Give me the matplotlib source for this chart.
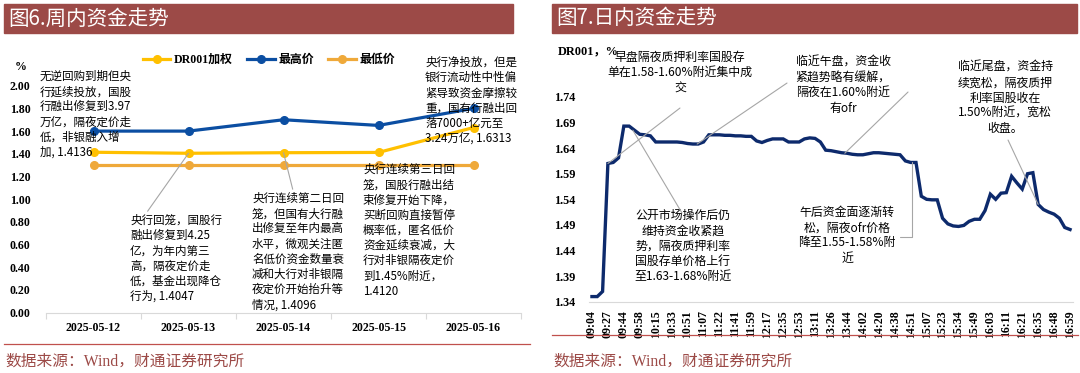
import matplotlib
matplotlib.use("Agg")
import matplotlib.pyplot as plt
from matplotlib.patches import Rectangle
from matplotlib.lines import Line2D

# ---- left chart data (图6) ----
DATES = ["2025-05-12", "2025-05-13", "2025-05-14", "2025-05-15", "2025-05-16"]
DR001_WEIGHTED = [1.4136, 1.4047, 1.4096, 1.4120, 1.6313]
HIGH_PRICE = [1.60, 1.60, 1.70, 1.65, 1.80]
LOW_PRICE = [1.30, 1.30, 1.30, 1.30, 1.30]
LEFT_YTICKS = [0.0, 0.2, 0.4, 0.6, 0.8, 1.0, 1.2, 1.4, 1.6, 1.8, 2.0]

# ---- right chart data (图7) ----
TIMES = [
    "09:04", "09:12", "09:20", "09:27", "09:33", "09:39", "09:44", "09:48", "09:53", "09:58",
    "10:04", "10:10", "10:15", "10:21", "10:27", "10:33", "10:39", "10:45", "10:51", "10:56",
    "11:02", "11:07", "11:12", "11:17", "11:22", "11:28", "11:35", "11:41", "11:47", "11:53",
    "11:59", "12:05", "12:11", "12:17", "12:23", "12:29", "12:35", "12:41", "12:47", "12:53",
    "12:59", "13:05", "13:11", "13:16", "13:21", "13:26", "13:32", "13:38", "13:44", "13:50",
    "13:56", "14:02", "14:08", "14:14", "14:20", "14:26", "14:32", "14:38", "14:42", "14:47",
    "14:51", "14:56", "15:02", "15:07", "15:12", "15:18", "15:23", "15:27", "15:31", "15:34",
    "15:39", "15:44", "15:49", "15:54", "15:59", "16:03", "16:06", "16:09", "16:11", "16:14",
    "16:18", "16:21", "16:26", "16:31", "16:35", "16:39", "16:44", "16:48", "16:52", "16:56",
    "16:59",
]
DR001_INTRADAY = [
    1.350, 1.350, 1.360, 1.610, 1.612, 1.621, 1.683, 1.683, 1.675, 1.667,
    1.666, 1.664, 1.652, 1.652, 1.652, 1.652, 1.652, 1.651, 1.649, 1.648,
    1.648, 1.652, 1.666, 1.666, 1.666, 1.665, 1.665, 1.664, 1.664, 1.663,
    1.663, 1.654, 1.651, 1.655, 1.658, 1.658, 1.658, 1.652, 1.652, 1.652,
    1.658, 1.660, 1.659, 1.652, 1.636, 1.635, 1.633, 1.631, 1.630, 1.628,
    1.627, 1.627, 1.629, 1.631, 1.631, 1.630, 1.629, 1.628, 1.627, 1.615,
    1.612, 1.612, 1.546, 1.540, 1.539, 1.539, 1.503, 1.492, 1.488, 1.487,
    1.489, 1.497, 1.501, 1.501, 1.518, 1.550, 1.540, 1.552, 1.553, 1.585,
    1.572, 1.560, 1.590, 1.592, 1.530, 1.520, 1.515, 1.511, 1.503, 1.485,
    1.481,
]
RIGHT_YTICKS = [1.34, 1.39, 1.44, 1.49, 1.54, 1.59, 1.64, 1.69, 1.74]

MAROON = "#9C4A47"
YELLOW = "#FFC000"
BLUE = "#0B4EA2"
ORANGE = "#EFA93A"
NAVY = "#0D2A6C"
LEADER = "#A6A6A6"

MIXED = ["Liberation Serif", "Noto Sans CJK SC"]
CJK = ["Noto Sans CJK SC", "DejaVu Sans"]
plt.rcParams["font.family"] = MIXED

W, H = 1080, 373
fig = plt.figure(figsize=(W / 100, H / 100), dpi=100)


def px_axes(left, top, right, bottom):
    return fig.add_axes([left / W, 1 - bottom / H, (right - left) / W, (bottom - top) / H])


# title bars, separators and sources
for x0, x1, sep_y, title in [(4, 513, 344, "图6.周内资金走势"), (552, 1077, 335, "图7.日内资金走势")]:
    fig.patches.append(Rectangle((x0 / W, 1 - 33 / H), (x1 - x0) / W, 29 / H,
                                 transform=fig.transFigure, color=MAROON, zorder=0))
    fig.text((x0 + 4) / W, 1 - 18.5 / H, title, color="white", fontsize=14.8,
             family=CJK, va="center", ha="left")
    end = 530 if x0 < 100 else 1078
    fig.add_artist(Line2D([x0 / W, end / W], [1 - sep_y / H] * 2, color="#C0504D",
                          linewidth=0.9, transform=fig.transFigure))
    fig.text((x0 + 1) / W, 1 - 362 / H, "数据来源：Wind，财通证券研究所", color=MAROON,
             fontsize=11.3, family=MIXED, va="center", ha="left")

# ---------------- left chart ----------------
ax = px_axes(46, 85.7, 521, 312.7)
x = list(range(len(DATES)))
ax.plot(x, DR001_WEIGHTED, color=YELLOW, marker="o", markersize=5.5, linewidth=2.3,
        label="DR001加权", zorder=3)
ax.plot(x, HIGH_PRICE, color=BLUE, marker="o", markersize=5.5, linewidth=2.3,
        label="最高价", zorder=3)
ax.plot(x, LOW_PRICE, color=ORANGE, marker="o", markersize=5.5, linewidth=2.3,
        label="最低价", zorder=2)
ax.set_xlim(-0.5, len(DATES) - 0.5)
ax.set_ylim(0, 2.0)
ax.set_yticks(LEFT_YTICKS)
ax.set_yticklabels([f"{v:.2f}" for v in LEFT_YTICKS], fontweight="bold", fontsize=8.6)
ax.set_xticks(x)
ax.set_xticklabels(DATES, fontweight="bold", fontsize=8.6)
ax.set_xticks([i - 0.5 for i in range(len(DATES) + 1)], minor=True)
ax.tick_params(axis="x", which="major", length=0, pad=7)
ax.tick_params(axis="x", which="minor", length=4, color="#D9D9D9", width=0.8)
ax.tick_params(axis="y", length=0, pad=11)
for side in ["top", "right", "left"]:
    ax.spines[side].set_visible(False)
ax.spines["bottom"].set_color("#D9D9D9")
ax.patch.set_alpha(0)
leg = ax.legend(loc="center", bbox_to_anchor=(0.469, 1.113), ncol=3, frameon=False,
                handlelength=2.3, columnspacing=1.2, handletextpad=0.3,
                prop={"weight": "bold", "size": 8.6, "family": MIXED})
fig.text(21 / W, 1 - 67 / H, "%", fontweight="bold", fontsize=8.6, ha="center", va="center")


def lx(px):
    return (px - 93.5) / 95


def ly(py):
    return (312.7 - py) / 113.5


note_kw = dict(fontsize=8.3, family=CJK, linespacing=1.22, va="top", annotation_clip=False)
arrow = dict(arrowstyle="-", color=LEADER, linewidth=0.8, shrinkA=0, shrinkB=0)

ax.annotate("无逆回购到期但央\n行延续投放，国股\n行融出修复到3.97\n万亿，隔夜定价走\n低，非银融入增\n加, 1.4136",
            xy=(lx(40), ly(70)), ha="left", **note_kw)
ax.annotate("央行回笼，国股行\n融出修复到4.25\n亿，为年内第三\n高，隔夜定价走\n低，基金出现降仓\n行为, 1.4047",
            xy=(1, DR001_WEIGHTED[1]), xytext=(lx(130), ly(214)), ha="left",
            arrowprops=dict(arrow, relpos=(0.17, 1.0)), **note_kw)
ax.annotate("央行连续第二日回\n笼，但国有大行融\n出修复至年内最高\n水平，微观关注匿\n名低价资金数量衰\n减和大行对非银隔\n夜定价开始抬升等\n情况, 1.4096",
            xy=(2, DR001_WEIGHTED[2]), xytext=(lx(252), ly(192)), ha="left",
            arrowprops=dict(arrow, relpos=(0.45, 1.0)), **note_kw)
ax.annotate("央行连续第三日回\n笼，国股行融出结\n束修复开始下降，\n买断回购直接暂停\n概率低，匿名低价\n资金延续衰减，大\n行对非银隔夜定价\n到1.45%附近，\n1.4120",
            xy=(lx(363), ly(163)), ha="left", **note_kw)
ax.annotate("央行净投放，但是\n银行流动性中性偏\n紧导致资金摩擦较\n重，国有行融出回\n落7000+亿元至\n3.24万亿, 1.6313",
            xy=(lx(425), ly(56)), ha="left", **note_kw)

# ---------------- right chart ----------------
bx = px_axes(589.3, 86.7, 1072.7, 301.7)
t = list(range(len(TIMES)))
bx.plot(t, DR001_INTRADAY, color=NAVY, linewidth=2.4, solid_joinstyle="miter", zorder=3)
bx.set_xlim(-0.5, len(TIMES) - 0.5)
bx.set_ylim(1.34, 1.76)
bx.set_yticks(RIGHT_YTICKS)
bx.set_yticklabels([f"{v:.2f}" for v in RIGHT_YTICKS], fontweight="bold", fontsize=8.8)
bx.set_xticks(t[::3])
bx.set_xticklabels(TIMES[::3], rotation=90, fontweight="bold", fontsize=8.6)
bx.tick_params(axis="x", length=0, pad=6)
bx.tick_params(axis="y", length=0, pad=10)
for side in ["top", "right", "left"]:
    bx.spines[side].set_visible(False)
bx.spines["bottom"].set_color("#D9D9D9")
bx.patch.set_alpha(0)
fig.text(558 / W, 1 - 51 / H, "DR001，%", fontweight="bold", fontsize=8.8, family=MIXED,
         ha="left", va="center")


def rx(px):
    return (px - 592) / 5.311


def ry(py):
    return 1.34 + (301.7 - py) * 0.05 / 25.6


rnote = dict(fontsize=8.6, family=CJK, linespacing=1.22, va="top", ha="center",
             annotation_clip=False)

bx.annotate("早盘隔夜质押利率国股存\n单在1.58-1.60%附近集中成\n交", xy=(rx(680), ry(51)), **rnote)
bx.annotate("", xy=(3, DR001_INTRADAY[3]), xytext=(rx(680), ry(108)),
            arrowprops=arrow, annotation_clip=False)

bx.annotate("临近午盘，资金收\n紧趋势略有缓解，\n隔夜在1.60%附近\n有ofr", xy=(rx(843), ry(56)), **rnote)
bx.annotate("", xy=(19.8, DR001_INTRADAY[20]), xytext=(rx(787), ry(83)),
            arrowprops=arrow, annotation_clip=False)
bx.annotate("", xy=(47.6, DR001_INTRADAY[48]), xytext=(rx(908), ry(92)),
            arrowprops=arrow, annotation_clip=False)

bx.annotate("公开市场操作后仍\n维持资金收紧趋\n势，隔夜质押利率\n国股存单价格上行\n至1.63-1.68%附近",
            xy=(rx(683), ry(209)), **rnote)
bx.annotate("", xy=(7.7, DR001_INTRADAY[8]), xytext=(rx(682), ry(213)),
            arrowprops=arrow, annotation_clip=False)

bx.annotate("午后资金面逐渐转\n松，隔夜ofr价格\n降至1.55-1.58%附\n近", xy=(rx(847), ry(206)), **rnote)
bx.annotate("", xy=(60.2, DR001_INTRADAY[60]), xytext=(rx(900), ry(237)),
            arrowprops=dict(arrow, connectionstyle="angle,angleA=0,angleB=90,rad=0"),
            annotation_clip=False)

bx.annotate("临近尾盘，资金持\n续宽松，隔夜质押\n利率国股收在\n1.50%附近，宽松\n收盘。", xy=(rx(1005), ry(61)), **rnote)
bx.annotate("", xy=(84, DR001_INTRADAY[84]), xytext=(rx(1008), ry(140)),
            arrowprops=arrow, annotation_clip=False)

fig.savefig("out.png", dpi=100)
